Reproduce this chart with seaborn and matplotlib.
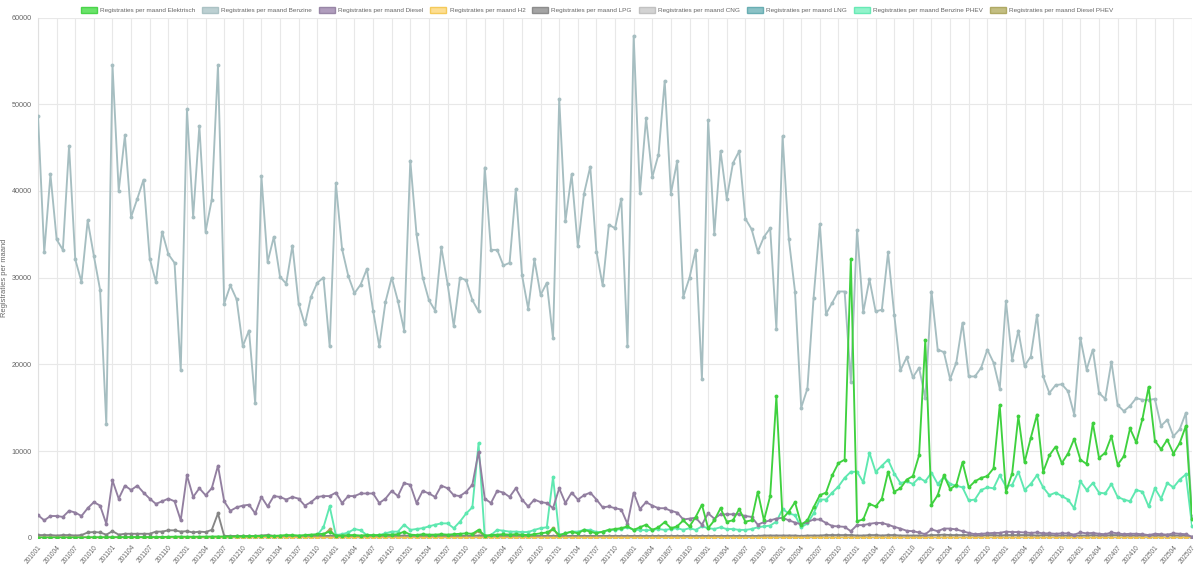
import numpy as np
import pandas as pd
import matplotlib
matplotlib.use("Agg")
import matplotlib.pyplot as plt
from matplotlib.patches import Patch
import seaborn as sns

# months 201001 .. 202507
months = pd.period_range("2010-01", "2025-07", freq="M").strftime("%Y%m").tolist()

benzine = [
    48600, 32900, 41900, 34400, 33200, 45200, 32100, 29500, 36600, 32500, 28600, 13100,
    54500, 40000, 46400, 37000, 39100, 41300, 32200, 29500, 35300, 32700, 31700, 19300,
    49400, 37000, 47500, 35300, 39000, 54500, 27000, 29100, 27500, 22100, 23900, 15500,
    41700, 31800, 34700, 30100, 29300, 33700, 27000, 24600, 27800, 29400, 30000, 22100,
    40900, 33300, 30200, 28200, 29200, 31000, 26200, 22100, 27200, 30000, 27300, 23900,
    43500, 35000, 30000, 27400, 26200, 33500, 29300, 24400, 30000, 29700, 27400, 26100,
    42700, 33200, 33200, 31400, 31700, 40200, 30300, 26400, 32100, 28000, 29400, 23000,
    50600, 36500, 41900, 33600, 39700, 42800, 33000, 29100, 36100, 35700, 39100, 22100,
    57900, 39800, 48400, 41600, 44200, 52700, 39700, 43400, 27800, 30000, 33200, 18300,
    48200, 35000, 44600, 39100, 43200, 44600, 36800, 35600, 33000, 34700, 35700, 24100,
    46300, 34500, 28400, 15000, 17200, 27700, 36200, 25800, 27100, 28400, 28400, 18000,
    35500, 26000, 29800, 26100, 26300, 32900, 25700, 19300, 20800, 18500, 19600, 16100,
    28400, 21700, 21400, 18300, 20200, 24800, 18600, 18600, 19600, 21700, 20200, 17200,
    27300, 20500, 23900, 19800, 20900, 25700, 18600, 16700, 17600, 17700, 16900, 14200,
    23000, 19400, 21700, 16700, 16000, 20300, 15300, 14600, 15200, 16100, 15900, 15900,
    16000, 12900, 13600, 11700, 12500, 14400, 2500,
]

diesel = [
    2600, 2000, 2500, 2500, 2400, 3100, 2900, 2500, 3400, 4100, 3700, 1600,
    6600, 4500, 6000, 5500, 6000, 5200, 4500, 3900, 4200, 4500, 4200, 2000,
    7200, 4700, 5700, 4900, 5700, 8300, 4200, 3100, 3500, 3700, 3800, 2800,
    4700, 3600, 4800, 4700, 4400, 4700, 4500, 3700, 4100, 4700, 4800, 4800,
    5200, 4000, 4800, 4800, 5100, 5100, 5100, 4000, 4500, 5400, 4800, 6300,
    6100, 4000, 5400, 5100, 4700, 6000, 5700, 4900, 4800, 5300, 6100, 9900,
    4500, 4000, 5400, 5200, 4700, 5700, 4400, 3600, 4400, 4100, 4000, 3400,
    5700, 4000, 5200, 4400, 4900, 5200, 4400, 3500, 3600, 3400, 3250, 1600,
    5200, 3300, 4100, 3700, 3400, 3400, 3100, 2900, 2100, 2200, 2300, 1500,
    2800, 2200, 2700, 2700, 2700, 2700, 2500, 2400, 1500, 1800, 2000, 2200,
    2300, 2000, 1750, 1550, 1800, 2100, 2100, 1700, 1350, 1300, 1250, 750,
    1450, 1450, 1600, 1700, 1700, 1500, 1250, 1050, 800, 750, 600, 400,
    950, 750, 1050, 1050, 950, 750, 550, 400, 450, 500, 550, 550,
    700, 650, 650, 600, 550, 600, 500, 500, 450, 500, 500, 350,
    600, 500, 550, 450, 400, 600, 500, 400, 450, 450, 400, 300,
    450, 400, 350, 500, 450, 400, 100,
]

elektrisch = [
    10, 10, 10, 20, 20, 20, 20, 20, 30, 30, 30, 40,
    50, 50, 60, 60, 60, 70, 70, 70, 80, 80, 90, 120,
    100, 100, 110, 120, 120, 130, 130, 120, 140, 150, 150, 200,
    200, 250, 200, 250, 300, 300, 250, 300, 350, 400, 450, 700,
    250, 250, 300, 300, 250, 300, 300, 300, 350, 350, 400, 700,
    350, 300, 400, 350, 350, 400, 350, 400, 450, 500, 450, 900,
    250, 300, 350, 400, 350, 400, 350, 300, 400, 500, 600, 1000,
    300, 500, 700, 500, 900, 700, 500, 700, 900, 1000, 1100, 1300,
    900, 1200, 1500, 900, 1200, 1800, 1100, 1300, 2000, 1300, 2400, 3800,
    1100, 2000, 3400, 1850, 2000, 3300, 1850, 2000, 5300, 2000, 4800, 16300,
    2200, 3000, 4100, 1500, 2000, 3500, 4900, 5200, 7200, 8600, 9000, 32100,
    1900, 2100, 3900, 3600, 4500, 7600, 5300, 5700, 6700, 7100, 9500, 22800,
    3800, 4900, 7200, 5600, 6100, 8700, 5800, 6500, 6900, 7100, 8000, 15300,
    5300, 7400, 14000, 8700, 11500, 14200, 7600, 9500, 10500, 8600, 9700, 11400,
    9000, 8500, 13200, 9200, 9800, 11700, 8400, 9400, 12600, 11000, 13700, 17400,
    11200, 10200, 11300, 9700, 10900, 12900, 2100,
]

benzine_phev = [
    0, 0, 0, 0, 0, 0, 0, 0, 0, 0, 0, 0,
    0, 0, 0, 0, 0, 0, 0, 0, 0, 0, 0, 0,
    10, 10, 10, 10, 10, 10, 10, 10, 20, 20, 20, 30,
    20, 20, 30, 30, 30, 40, 40, 50, 100, 300, 1200, 3600,
    300, 400, 600, 1000, 850, 300, 250, 300, 500, 700, 700, 1500,
    900, 1000, 1100, 1300, 1500, 1650, 1650, 1100, 1850, 2800, 3500, 10900,
    50, 300, 900, 800, 700, 700, 650, 650, 900, 1100, 1200, 7000,
    300, 500, 700, 700, 900, 900, 650, 650, 900, 900, 1000, 1200,
    900, 900, 850, 900, 1000, 900, 1000, 1100, 900, 1100, 900, 1300,
    1100, 1000, 1200, 1000, 1000, 900, 900, 1000, 1200, 1300, 1400, 1850,
    3300, 2800, 2600, 1200, 1650, 2800, 4400, 4400, 5200, 5900, 6900, 7600,
    7600, 6400, 9800, 7600, 8300, 9000, 7400, 6300, 6500, 6200, 6900, 6500,
    7500, 6200, 7000, 6200, 6000, 5800, 4300, 4400, 5500, 5800, 5700, 7200,
    5900, 6100, 7600, 5500, 6200, 7200, 5800, 4900, 5200, 4800, 4400, 3400,
    6500, 5500, 6300, 5200, 5100, 6200, 4700, 4400, 4200, 5500, 5300, 3600,
    5700, 4500, 6300, 5800, 6700, 7300, 1300,
]

lpg = [
    300, 300, 300, 250, 300, 300, 250, 300, 600, 650, 600, 350,
    750, 350, 450, 450, 450, 450, 450, 700, 700, 850, 850, 700,
    750, 600, 700, 650, 900, 2800, 200, 200, 200, 200, 200, 200,
    250, 300, 200, 200, 200, 200, 200, 200, 200, 200, 200, 200,
    200, 200, 200, 200, 200, 200, 200, 200, 200, 200, 200, 250,
    200, 200, 200, 200, 200, 200, 200, 200, 200, 200, 200, 250,
    200, 200, 200, 200, 200, 200, 200, 200, 200, 200, 200, 200,
    200, 200, 200, 200, 200, 200, 200, 200, 200, 200, 200, 200,
    200, 200, 200, 200, 200, 200, 200, 200, 200, 200, 200, 200,
    200, 200, 200, 200, 200, 200, 200, 200, 200, 250, 250, 250,
    250, 250, 250, 200, 250, 250, 250, 300, 300, 300, 300, 300,
    250, 250, 300, 300, 250, 300, 300, 250, 250, 250, 250, 250,
    300, 300, 350, 300, 300, 300, 300, 250, 250, 300, 300, 250,
    300, 300, 300, 300, 300, 250, 300, 300, 250, 250, 250, 250,
    250, 250, 300, 250, 250, 300, 300, 250, 250, 250, 250, 250,
    250, 250, 300, 250, 250, 250, 50,
]

diesel_phev = [0] * 44 + [50, 100, 300, 950] + [
    100, 100, 100, 100, 100, 100, 100, 100, 100, 120, 120, 200,
    100, 100, 120, 120, 120, 150, 150, 150, 180, 200, 250, 800,
    80, 80, 80, 80, 80, 80, 80, 80, 100, 100, 150, 1100,
] + [50] * 12 + [30] * 12 + [20] * 12 + [10] * 12 + [10] * 12 + [5] * 12 + [5] * 12 + [0] * 12 + [0] * 7

cng = [100] * 48 + [80] * 48 + [50] * 48 + [20] * 43
h2 = [0] * 120 + [10] * 67
lng = [0] * 187

series = [
    ("Registraties per maand Elektrisch", elektrisch, "#3fd13f", "#5ae05a"),
    ("Registraties per maand Benzine", benzine, "#a6bec1", "#b5cbcd"),
    ("Registraties per maand Diesel", diesel, "#927fa0", "#a892b6"),
    ("Registraties per maand H2", h2, "#f3c64e", "#fddb86"),
    ("Registraties per maand LPG", lpg, "#858585", "#9a9a9a"),
    ("Registraties per maand CNG", cng, "#bdbdbd", "#cfcfcf"),
    ("Registraties per maand LNG", lng, "#5fa9ae", "#7fbcc0"),
    ("Registraties per maand Benzine PHEV", benzine_phev, "#5ee8b0", "#86f2c6"),
    ("Registraties per maand Diesel PHEV", diesel_phev, "#aaa45a", "#bdb775"),
]

sns.set_style("white")
plt.rcParams["font.family"] = ["Liberation Sans", "DejaVu Sans"]

fig = plt.figure(figsize=(12, 5.67), dpi=100)
ax = fig.add_axes([0.0317, 0.0517, 0.9617, 0.9173])

x = np.arange(len(months))
for k, (name, vals, col, _) in enumerate(reversed(series)):
    df = pd.DataFrame({"x": x, "y": vals})
    sns.lineplot(data=df, x="x", y="y", ax=ax, color=col, linewidth=1.35,
                 marker="o", markersize=2.8, markeredgewidth=0,
                 zorder=3 + k, legend=False)

ax.set_xlim(0, len(months) - 1)
ax.set_ylim(0, 60000)
ax.set_yticks(range(0, 60001, 10000))
ax.set_yticklabels([str(v) for v in range(0, 60001, 10000)], fontsize=5.2, color="#666666")
ticks = list(range(0, len(months), 3))
ax.set_xticks(ticks)
ax.set_xticklabels([months[t] for t in ticks], rotation=50, ha="right",
                   rotation_mode="anchor", fontsize=4.7, color="#666666")
ax.grid(True, color="#e8e8e8", linewidth=0.8)
ax.tick_params(axis="both", length=3, color="#e8e8e8", pad=1.5)
for s in ["top", "right"]:
    ax.spines[s].set_visible(False)
for s in ["left", "bottom"]:
    ax.spines[s].set_color("#e0e0e0")
ax.set_xlabel("")
ax.set_ylabel("Registraties per maand", fontsize=5.4, color="#666666")
ax.yaxis.set_label_coords(-0.026, 0.5)

handles = [Patch(facecolor=fc, edgecolor=col, linewidth=1.0, alpha=0.9, label=name)
           for name, _, col, fc in series]
fig.legend(handles=handles, loc="upper center", bbox_to_anchor=(0.4975, 0.998), ncol=9,
           frameon=False, fontsize=4.6, handlelength=2.5, handleheight=1.1,
           columnspacing=1.1, handletextpad=0.5, labelcolor="#666666")

fig.savefig("out.png", dpi=100)
